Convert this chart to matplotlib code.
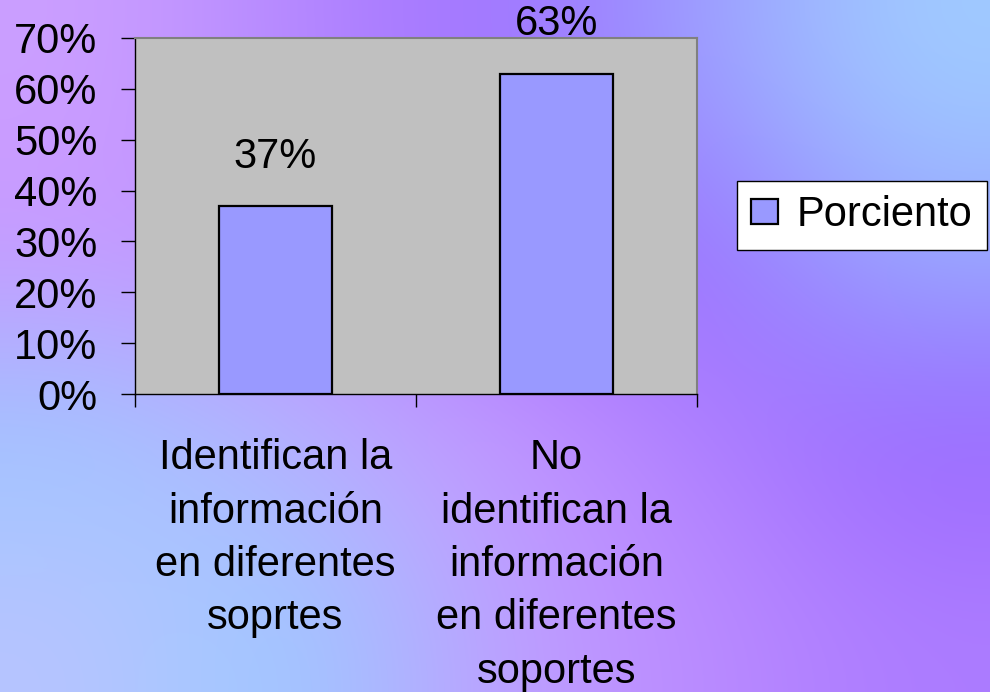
import numpy as np
import matplotlib
matplotlib.use("Agg")
import matplotlib.pyplot as plt
from matplotlib.colors import to_rgb

# data
categories = ["Identifican la\ninformación\nen diferentes\nsoprtes",
              "No\nidentifican la\ninformación\nen diferentes\nsoportes"]
values = [0.37, 0.63]
value_labels = ["37%", "63%"]
series_name = "Porciento"
y_ticks = [0.0, 0.1, 0.2, 0.3, 0.4, 0.5, 0.6, 0.7]

# rough colour grid for the slide background (rows top->bottom)
bg_grid = [
    ["#CCA0FF", "#B488FF", "#A070FF", "#9C9CFF", "#A0CCFF"],
    ["#C898FF", "#C090FF", "#A474FF", "#9868FF", "#98A8FF"],
    ["#9CC8FF", "#B8B0FF", "#C898FF", "#B080FF", "#9966FF"],
    ["#B8C4FF", "#99CCFF", "#C0A0FF", "#BC8CFF", "#AC7CFF"],
]

plt.rcParams['font.family'] = ['Liberation Sans', 'DejaVu Sans']
fs = 30

fig = plt.figure(figsize=(9.9, 6.92), dpi=100)

# background gradient
bg = fig.add_axes([0, 0, 1, 1], zorder=-10)
img = np.array([[to_rgb(c) for c in row] for row in bg_grid])
bg.imshow(img, extent=[0, 1, 0, 1], aspect='auto', interpolation='bicubic')
bg.set_axis_off()

ax = fig.add_axes([0.1364, 0.4306, 0.5677, 0.5145])
ax.set_facecolor("#C0C0C0")

x = np.arange(len(values))
bars = ax.bar(x, values, width=0.4, color="#9999FF", edgecolor="black",
              linewidth=1.6, label=series_name, zorder=3)

for xi, v, lab in zip(x, values, value_labels):
    ax.annotate(lab, (xi, v), xytext=(0, 21), textcoords='offset points',
                ha='center', va='bottom', fontsize=fs, annotation_clip=False)

ax.set_xlim(-0.5, 1.5)
ax.set_ylim(0, 0.7)
ax.set_yticks(y_ticks)
ax.set_yticklabels([f"{int(round(t * 100))}%" for t in y_ticks], fontsize=fs)
ax.tick_params(axis='y', direction='out', length=10, width=1, pad=17)

# ticks at category boundaries, labels at category centres
ax.set_xticks([-0.5, 0.5, 1.5])
ax.set_xticklabels([])
ax.tick_params(axis='x', which='major', direction='out', length=9.5, width=1)
ax.set_xticks(x, minor=True)
ax.set_xticklabels(categories, minor=True, fontsize=fs, linespacing=1.43)
ax.tick_params(axis='x', which='minor', length=0, pad=32)

for side in ['top', 'right']:
    ax.spines[side].set_color("#808080")
    ax.spines[side].set_linewidth(1.5)
for side in ['left', 'bottom']:
    ax.spines[side].set_color("black")
    ax.spines[side].set_linewidth(1)

leg = fig.legend(handles=[bars], labels=[series_name], loc='center left',
                 bbox_to_anchor=(0.744, 0.6886), fontsize=fs, frameon=True,
                 fancybox=False, edgecolor='black', framealpha=1,
                 handlelength=0.65, handleheight=0.55, handletextpad=0.45,
                 borderpad=0.35, borderaxespad=0)
leg.get_frame().set_linewidth(1)

fig.savefig("out.png", dpi=100)
